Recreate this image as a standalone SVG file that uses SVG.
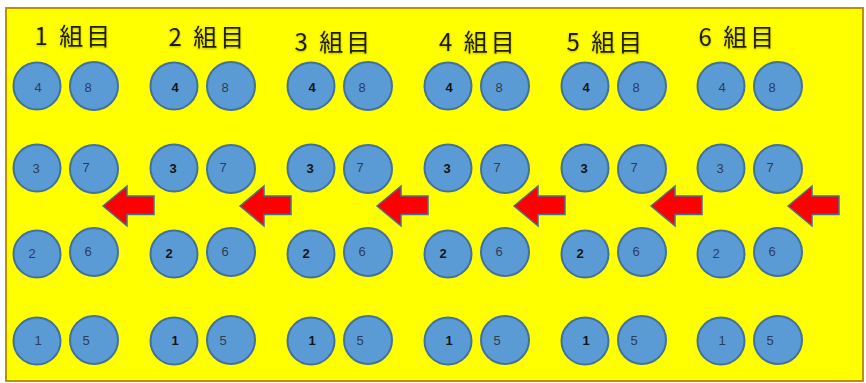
<svg xmlns="http://www.w3.org/2000/svg" width="866" height="383" viewBox="0 0 866 383">
<style>
.bg{fill:#ffff00;stroke:#bf9000;stroke-width:2}
.c{fill:#5b9bd5;stroke:#41719c;stroke-width:2}
.t{font-family:"Liberation Sans",Arial,sans-serif;font-size:13px;fill:#2e3b55;text-anchor:middle}
.b{font-weight:bold;fill:#141414}
.h{font-family:"Noto Sans CJK JP","Noto Sans CJK SC",sans-serif;font-size:24px;fill:#1a1a00;letter-spacing:3px}
.ar{fill:#ff0000;stroke:#4a6f93;stroke-width:1.5;stroke-linejoin:miter}
</style>
<defs>
<filter id="glow" x="-10%" y="-30%" width="120%" height="160%">
<feDropShadow dx="0" dy="1" stdDeviation="1" flood-color="#6b6000" flood-opacity="0.45"/>
</filter>
</defs>
<rect width="866" height="383" fill="#ffffff"/>
<rect class="bg" x="6" y="8" width="857" height="373"/>

<g id="titles" filter="url(#glow)">
<text id="title1" class="h" x="34.5" y="45">1 組目</text>
<text id="title2" class="h" x="168.5" y="46">2 組目</text>
<text id="title3" class="h" x="294.5" y="51">3 組目</text>
<text id="title4" class="h" x="439" y="51">4 組目</text>
<text id="title5" class="h" x="566.5" y="51">5 組目</text>
<text id="title6" class="h" x="698.5" y="46">6 組目</text>
</g>

<g id="connectors">
<path class="ar" d="M103,206 L127,186 L127,196 L154,196 L154,214.5 L127,214.5 L127,226 Z"/>
<path class="ar" d="M240,206 L264,186 L264,196 L291,196 L291,214.5 L264,214.5 L264,226 Z"/>
<path class="ar" d="M377,206 L401,186 L401,196 L428,196 L428,214.5 L401,214.5 L401,226 Z"/>
<path class="ar" d="M514,206 L538,186 L538,196 L565,196 L565,214.5 L538,214.5 L538,226 Z"/>
<path class="ar" d="M651,206 L675,186 L675,196 L702,196 L702,214.5 L675,214.5 L675,226 Z"/>
<path class="ar" d="M788,206 L812,186 L812,196 L839,196 L839,214.5 L812,214.5 L812,226 Z"/>
</g>

<g id="group1">
<g id="g1-4"><circle class="c" cx="37" cy="86" r="23.5"/><text class="t" x="38" y="91.5">4</text></g>
<g id="g1-8"><circle class="c" cx="94" cy="86" r="24"/><text class="t" x="88" y="91.5">8</text></g>
<g id="g1-3"><circle class="c" cx="37" cy="168" r="23.5"/><text class="t" x="36" y="172.5">3</text></g>
<g id="g1-7"><circle class="c" cx="94" cy="169" r="24"/><text class="t" x="86" y="171.5">7</text></g>
<g id="g1-2"><circle class="c" cx="37" cy="254" r="23.5"/><text class="t" x="32" y="257.5">2</text></g>
<g id="g1-6"><circle class="c" cx="94" cy="252" r="24"/><text class="t" x="88" y="255.5">6</text></g>
<g id="g1-1"><circle class="c" cx="37" cy="341" r="23.5"/><text class="t" x="38" y="344.5">1</text></g>
<g id="g1-5"><circle class="c" cx="94" cy="340" r="24"/><text class="t" x="86" y="344.5">5</text></g>
</g>

<g id="group2">
<g id="g2-4"><circle class="c" cx="174" cy="86" r="23.5"/><text class="t b" x="175" y="91.5">4</text></g>
<g id="g2-8"><circle class="c" cx="231" cy="86" r="24"/><text class="t" x="225" y="91.5">8</text></g>
<g id="g2-3"><circle class="c" cx="174" cy="168" r="23.5"/><text class="t b" x="173" y="172.5">3</text></g>
<g id="g2-7"><circle class="c" cx="231" cy="169" r="24"/><text class="t" x="223" y="171.5">7</text></g>
<g id="g2-2"><circle class="c" cx="174" cy="254" r="23.5"/><text class="t b" x="169" y="257.5">2</text></g>
<g id="g2-6"><circle class="c" cx="231" cy="252" r="24"/><text class="t" x="225" y="255.5">6</text></g>
<g id="g2-1"><circle class="c" cx="174" cy="341" r="23.5"/><text class="t b" x="175" y="344.5">1</text></g>
<g id="g2-5"><circle class="c" cx="231" cy="340" r="24"/><text class="t" x="223" y="344.5">5</text></g>
</g>

<g id="group3">
<g id="g3-4"><circle class="c" cx="311" cy="86" r="23.5"/><text class="t b" x="312" y="91.5">4</text></g>
<g id="g3-8"><circle class="c" cx="368" cy="86" r="24"/><text class="t" x="362" y="91.5">8</text></g>
<g id="g3-3"><circle class="c" cx="311" cy="168" r="23.5"/><text class="t b" x="310" y="172.5">3</text></g>
<g id="g3-7"><circle class="c" cx="368" cy="169" r="24"/><text class="t" x="360" y="171.5">7</text></g>
<g id="g3-2"><circle class="c" cx="311" cy="254" r="23.5"/><text class="t b" x="306" y="257.5">2</text></g>
<g id="g3-6"><circle class="c" cx="368" cy="252" r="24"/><text class="t" x="362" y="255.5">6</text></g>
<g id="g3-1"><circle class="c" cx="311" cy="341" r="23.5"/><text class="t b" x="312" y="344.5">1</text></g>
<g id="g3-5"><circle class="c" cx="368" cy="340" r="24"/><text class="t" x="360" y="344.5">5</text></g>
</g>

<g id="group4">
<g id="g4-4"><circle class="c" cx="448" cy="86" r="23.5"/><text class="t b" x="449" y="91.5">4</text></g>
<g id="g4-8"><circle class="c" cx="505" cy="86" r="24"/><text class="t" x="499" y="91.5">8</text></g>
<g id="g4-3"><circle class="c" cx="448" cy="168" r="23.5"/><text class="t b" x="447" y="172.5">3</text></g>
<g id="g4-7"><circle class="c" cx="505" cy="169" r="24"/><text class="t" x="497" y="171.5">7</text></g>
<g id="g4-2"><circle class="c" cx="448" cy="254" r="23.5"/><text class="t b" x="443" y="257.5">2</text></g>
<g id="g4-6"><circle class="c" cx="505" cy="252" r="24"/><text class="t" x="499" y="255.5">6</text></g>
<g id="g4-1"><circle class="c" cx="448" cy="341" r="23.5"/><text class="t b" x="449" y="344.5">1</text></g>
<g id="g4-5"><circle class="c" cx="505" cy="340" r="24"/><text class="t" x="497" y="344.5">5</text></g>
</g>

<g id="group5">
<g id="g5-4"><circle class="c" cx="585" cy="86" r="23.5"/><text class="t b" x="586" y="91.5">4</text></g>
<g id="g5-8"><circle class="c" cx="642" cy="86" r="24"/><text class="t" x="636" y="91.5">8</text></g>
<g id="g5-3"><circle class="c" cx="585" cy="168" r="23.5"/><text class="t b" x="584" y="172.5">3</text></g>
<g id="g5-7"><circle class="c" cx="642" cy="169" r="24"/><text class="t" x="634" y="171.5">7</text></g>
<g id="g5-2"><circle class="c" cx="585" cy="254" r="23.5"/><text class="t b" x="580" y="257.5">2</text></g>
<g id="g5-6"><circle class="c" cx="642" cy="252" r="24"/><text class="t" x="636" y="255.5">6</text></g>
<g id="g5-1"><circle class="c" cx="585" cy="341" r="23.5"/><text class="t b" x="586" y="344.5">1</text></g>
<g id="g5-5"><circle class="c" cx="642" cy="340" r="24"/><text class="t" x="634" y="344.5">5</text></g>
</g>

<g id="group6">
<g id="g6-4"><circle class="c" cx="721" cy="86" r="23.5"/><text class="t" x="722" y="91.5">4</text></g>
<g id="g6-8"><circle class="c" cx="778" cy="86" r="24"/><text class="t" x="772" y="91.5">8</text></g>
<g id="g6-3"><circle class="c" cx="721" cy="168" r="23.5"/><text class="t" x="720" y="172.5">3</text></g>
<g id="g6-7"><circle class="c" cx="778" cy="169" r="24"/><text class="t" x="770" y="171.5">7</text></g>
<g id="g6-2"><circle class="c" cx="721" cy="254" r="23.5"/><text class="t" x="716" y="257.5">2</text></g>
<g id="g6-6"><circle class="c" cx="778" cy="252" r="24"/><text class="t" x="772" y="255.5">6</text></g>
<g id="g6-1"><circle class="c" cx="721" cy="341" r="23.5"/><text class="t" x="722" y="344.5">1</text></g>
<g id="g6-5"><circle class="c" cx="778" cy="340" r="24"/><text class="t" x="770" y="344.5">5</text></g>
</g>
</svg>
